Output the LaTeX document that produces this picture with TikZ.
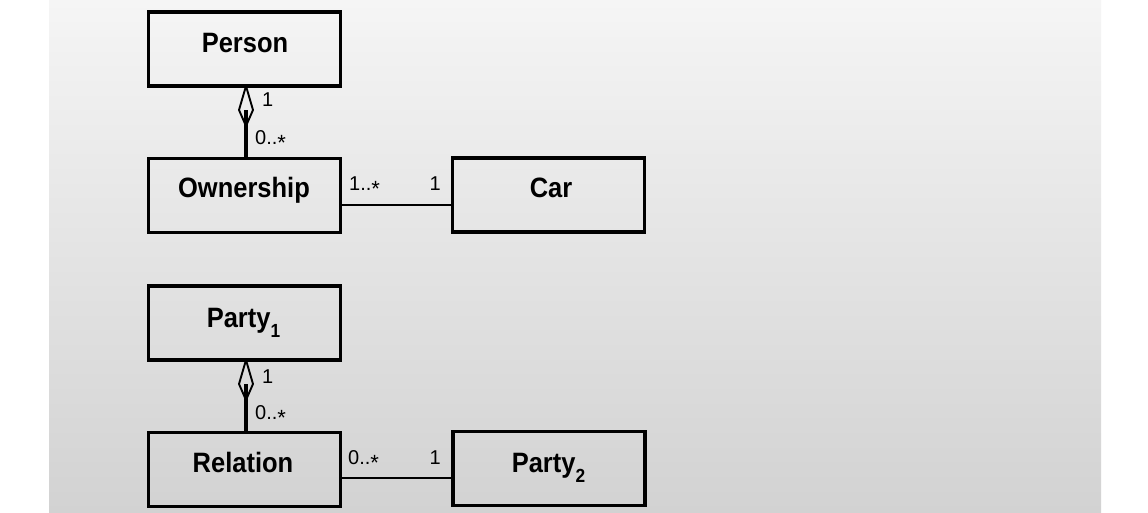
\documentclass[tikz,border=0pt]{standalone}
\usepackage{fontspec}
\setmainfont{Liberation Sans}
\definecolor{bgtop}{RGB}{245,245,245}
\definecolor{bgbot}{RGB}{210,210,210}
\newcommand{\mstar}{\raisebox{-0.3em}{\fontsize{22}{22}\selectfont *}}
\newcommand{\boxtext}[1]{\scalebox{0.91}[1]{#1}}
\begin{document}
\begin{tikzpicture}[x=1pt,y=-1pt,
  umlbox/.style={draw=black,line width=3.6pt,rectangle,minimum width=192pt,minimum height=74pt,inner sep=0pt,outer sep=0pt},
  boxlabel/.style={anchor=base,inner sep=0pt,font=\fontsize{28}{28}\selectfont\bfseries},
  mult/.style={inner sep=0pt,font=\fontsize{20}{20}\selectfont},
  assoc/.style={line width=2.6pt},
  aggline/.style={line width=3.8pt},
  aggdia/.style={line width=1.9pt,line join=round}]
\useasboundingbox (0,0) rectangle (1148,513);
\fill[white] (0,0) rectangle (1148,513);
\shade[top color=bgtop,bottom color=bgbot] (49,0) rectangle (1101,513);

% boxes
\node[umlbox] (person) at (244.5,49) {};
\node[umlbox] (ownership) at (244.5,195.5) {};
\node[umlbox] (car) at (548.5,195) {};
\node[umlbox] (party1) at (244.5,323) {};
\node[umlbox] (relation) at (244.5,469.5) {};
\node[umlbox] (party2) at (549,468.5) {};

% box labels
\node[boxlabel] (tperson) at (245,53) {\boxtext{Person}};
\node[boxlabel] (townership) at (244,197) {\boxtext{Ownership}};
\node[boxlabel] (tcar) at (551,197) {\boxtext{Car}};
\node[boxlabel] (tparty1) at (243.5,327) {\boxtext{Party\raisebox{-0.36em}{\fontsize{19}{19}\selectfont 1}}};
\node[boxlabel] (trelation) at (243,472) {\boxtext{Relation}};
\node[boxlabel] (tparty2) at (548.5,472) {\boxtext{Party\raisebox{-0.36em}{\fontsize{19}{19}\selectfont 2}}};

% aggregation Person - Ownership
\coordinate (d1t) at ([xshift=1.5pt]person.south);
\coordinate (d1c) at ([xshift=1.5pt,yshift=-24pt]person.south);
\coordinate (d1b) at ([xshift=1.5pt,yshift=-40pt]person.south);
\draw[aggline] ([xshift=1.5pt]ownership.north) -- (d1c);
\draw[aggdia] (d1t) -- ([xshift=7pt]d1c) -- (d1b) -- ([xshift=-7pt]d1c) -- cycle;

% aggregation Party1 - Relation
\coordinate (d2t) at ([xshift=1.5pt]party1.south);
\coordinate (d2c) at ([xshift=1.5pt,yshift=-24pt]party1.south);
\coordinate (d2b) at ([xshift=1.5pt,yshift=-40pt]party1.south);
\draw[aggline] ([xshift=1.5pt]relation.north) -- (d2c);
\draw[aggdia] (d2t) -- ([xshift=7pt]d2c) -- (d2b) -- ([xshift=-7pt]d2c) -- cycle;

% associations
\draw[assoc] (ownership.east |- 0,205) -- (car.west |- 0,205);
\draw[assoc] (relation.east |- 0,478) -- (party2.west |- 0,478);

% multiplicities
\node[mult,anchor=base west] (m1) at (262,107) {1};
\node[mult,anchor=base west] (m2) at (255,145) {0..\mstar};
\node[mult,anchor=base west] (m3) at (349,190) {1..\mstar};
\node[mult,anchor=base east] (m4) at (441,190) {1};
\node[mult,anchor=base west] (m5) at (262,383) {1};
\node[mult,anchor=base west] (m6) at (255,419) {0..\mstar};
\node[mult,anchor=base west] (m7) at (348,464) {0..\mstar};
\node[mult,anchor=base east] (m8) at (441,464) {1};
\end{tikzpicture}
\end{document}
